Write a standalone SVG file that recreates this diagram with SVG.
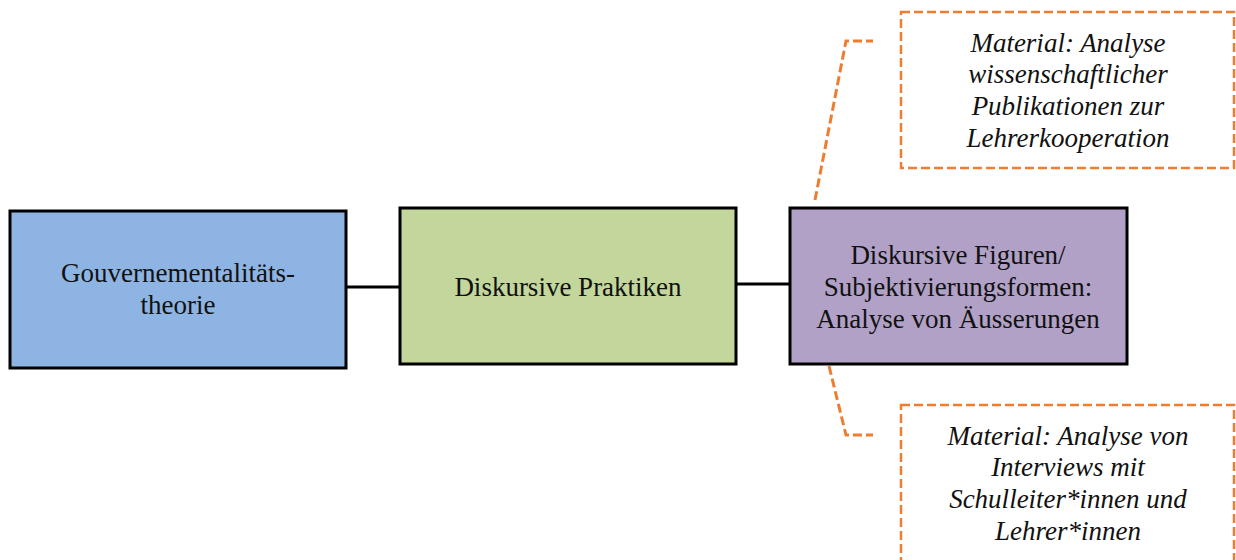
<svg xmlns="http://www.w3.org/2000/svg" width="1236" height="560" viewBox="0 0 1236 560">
  <style>
    .node { stroke: #000; stroke-width: 3; }
    .label { font-family: "Liberation Serif", "Times New Roman", serif; font-size: 27px; fill: #111; text-anchor: middle; }
    .note { font-family: "Liberation Serif", "Times New Roman", serif; font-size: 27px; font-style: italic; fill: #111; text-anchor: middle; }
    .callout { fill: #fff; stroke: #ED7D31; stroke-width: 2.5; stroke-dasharray: 9 4; }
    .leader { fill: none; stroke: #ED7D31; stroke-width: 3; stroke-dasharray: 9 4; }
    .link { stroke: #000; stroke-width: 3; fill: none; }
  </style>
  <rect width="1236" height="560" fill="#fff"/>

  <g id="connectors">
    <line class="link" x1="346" y1="287" x2="400" y2="287"/>
    <line class="link" x1="736" y1="284" x2="790" y2="284"/>
    <path class="leader" d="M815 200 L846 41 L873 41"/>
    <path class="leader" d="M829 366 L846 435 L873 435"/>
  </g>

  <g id="theory">
    <rect class="node" x="10" y="211" width="336" height="157" fill="#8EB4E3"/>
    <text class="label" x="178" y="282">Gouvernementalitäts-</text>
    <text class="label" x="178" y="314">theorie</text>
  </g>

  <g id="practices">
    <rect class="node" x="400" y="208" width="336" height="156" fill="#C3D69B"/>
    <text class="label" x="568" y="296">Diskursive Praktiken</text>
  </g>

  <g id="figures">
    <rect class="node" x="790" y="208" width="337" height="156" fill="#B2A1C7"/>
    <text class="label" x="958" y="264">Diskursive Figuren/</text>
    <text class="label" x="958" y="296">Subjektivierungsformen:</text>
    <text class="label" x="958" y="328">Analyse von Äusserungen</text>
  </g>

  <g id="material-publications">
    <rect class="callout" x="901" y="12" width="333" height="156"/>
    <text class="note" x="1068" y="52">Material: Analyse</text>
    <text class="note" x="1068" y="83">wissenschaftlicher</text>
    <text class="note" x="1068" y="115">Publikationen zur</text>
    <text class="note" x="1068" y="147">Lehrerkooperation</text>
  </g>

  <g id="material-interviews">
    <rect class="callout" x="901" y="405" width="333" height="170"/>
    <text class="note" x="1068" y="445">Material: Analyse von</text>
    <text class="note" x="1068" y="476">Interviews mit</text>
    <text class="note" x="1068" y="508">Schulleiter*innen und</text>
    <text class="note" x="1068" y="540">Lehrer*innen</text>
  </g>
</svg>
